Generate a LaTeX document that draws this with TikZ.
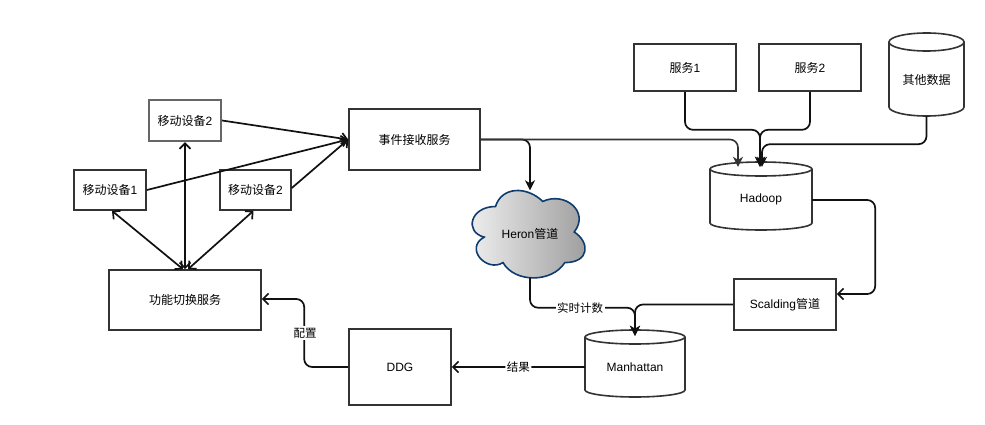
\documentclass[tikz,border=0pt]{standalone}
\usepackage{fontspec}
\setmainfont{Liberation Sans}
\newfontfamily\cjk{Noto Sans CJK SC}
\usetikzlibrary{arrows.meta}
\definecolor{ln}{HTML}{333333}
\definecolor{edgec}{HTML}{111111}
\definecolor{cloudb}{HTML}{0E3C6E}
\definecolor{cloudl}{HTML}{F2F2F2}
\definecolor{cloudr}{HTML}{9C9C9C}
\definecolor{grayb}{HTML}{666666}
\newcommand\zh[1]{{\cjk #1}}
\newcommand\cylshape[5]{%
  \pgfmathsetmacro\cyx{(#1+#3)/2}\pgfmathsetmacro\cyr{(#3-#1)/2}%
  \fill[white] (#1,#2+#5) -- (#1,#4-#5) -- (#3,#4-#5) -- (#3,#2+#5) -- cycle;
  \draw[boxline,fill=white] (#1,#2+#5) -- (#1,#4-#5) .. controls (#1,#4-0.448*#5) and (\cyx-0.552*\cyr,#4) .. (\cyx,#4) .. controls (\cyx+0.552*\cyr,#4) and (#3,#4-0.448*#5) .. (#3,#4-#5) -- (#3,#2+#5);
  \draw[boxline,fill=white] (\cyx,#2+#5) ellipse [x radius=\cyr, y radius=#5];
}
\begin{document}
\begin{tikzpicture}[x=1pt,y=-1pt,
  font=\fontsize{12}{14}\selectfont,
  boxline/.style={draw=ln,line width=1.6pt},
  box/.style={boxline,fill=white,inner sep=0pt},
  anch/.style={inner sep=0pt},
  edge/.style={draw=edgec,line width=1.7pt,rounded corners=8pt},
  openarr/.style={-{Straight Barb[length=5.5pt,width=11pt]}},
  bothopen/.style={{Straight Barb[length=5.5pt,width=11pt]}-{Straight Barb[length=5.5pt,width=11pt]}},
  classic/.style={-{Stealth[length=10pt,width=10pt,inset=3pt]}},
  elabel/.style={fill=white,inner sep=1.5pt,font=\fontsize{11.5}{13}\selectfont}]
\useasboundingbox (0,0) rectangle (985,425);

% boxes
\node[box,draw=grayb,line width=2.2pt,minimum width=72,minimum height=41] (devA) at (185,120.5) {\zh{移动设备}2};
\node[box,minimum width=72,minimum height=40] (dev1) at (110,190) {\zh{移动设备}1};
\node[box,minimum width=71,minimum height=40] (devB) at (255.5,190) {\zh{移动设备}2};
\node[box,minimum width=152,minimum height=60] (func) at (185,300) {\zh{功能切换服务}};
\node[box,minimum width=131,minimum height=61] (event) at (414.5,139.5) {\zh{事件接收服务}};
\node[box,minimum width=102,minimum height=47] (s1) at (685,67.5) {\zh{服务}1};
\node[box,minimum width=102,minimum height=47] (s2) at (810,67.5) {\zh{服务}2};
\node[box,minimum width=102,minimum height=51] (scald) at (785,304.5) {Scalding\zh{管道}};
\node[box,minimum width=102,minimum height=76] (ddg) at (400,367) {DDG};

% cylinders
\cylshape{889}{33}{964}{116}{9}
\node[anch,minimum width=75,minimum height=83] (other) at (926.5,74.5) {};
\node at (926.5,80) {\zh{其他数据}};
\cylshape{710}{162}{812}{230}{7}
\node[anch,minimum width=102,minimum height=68] (hadoop) at (761,196) {};
\node at (761,199.5) {Hadoop};
\cylshape{585}{330}{685}{397}{7}
\node[anch,minimum width=100,minimum height=67] (manh) at (635,363.5) {};
\node at (635,367.5) {Manhattan};

% cloud
\begin{scope}[shift={(464,181)},x=126pt,y=-102pt]
\draw[draw=cloudb,line width=1.6pt,left color=cloudl,right color=cloudr]
  (0.25,0.25) .. controls (0.05,0.25) and (0,0.5) .. (0.16,0.55)
  .. controls (0,0.66) and (0.18,0.9) .. (0.31,0.8)
  .. controls (0.4,1) and (0.7,1) .. (0.8,0.8)
  .. controls (1,0.8) and (1,0.6) .. (0.875,0.5)
  .. controls (1,0.3) and (0.8,0.1) .. (0.625,0.2)
  .. controls (0.5,0.05) and (0.3,0.05) .. (0.25,0.25) -- cycle;
\end{scope}
\node[anch,minimum width=113,minimum height=87] (heron) at (530,234) {Heron\zh{管道}};

% device edges
\draw[edge,openarr] (devA.east) -- (event.west);
\draw[edge,openarr] (dev1.east) -- (event.west);
\draw[edge,openarr] ([yshift=2pt]devB.east) -- (event.west);
\draw[edge,bothopen] (devA.south) -- (func.north);
\draw[edge,bothopen] ([xshift=2pt]dev1.south) -- ([xshift=-2pt]func.north);
\draw[edge,bothopen] ([xshift=-2pt]devB.south) -- ([xshift=3pt]func.north);

% event service
\draw[edge,classic] (event.east) -| (heron.north);
\draw[edge,classic,line width=1.6pt,draw=ln] (event.east) -| ([xshift=-23pt,yshift=-5pt]hadoop.north);

% into hadoop
\draw[edge,classic] (s1.south) -- ([yshift=-38pt]s1.south) -| ([xshift=-1pt,yshift=-5pt]hadoop.north);
\draw[edge,classic] (s2.south) -- ([yshift=-38pt]s2.south) -| ([xshift=-1pt,yshift=-5pt]hadoop.north);
\draw[edge,classic] (other.south) -- ([yshift=-28pt]other.south) -| ([xshift=1pt,yshift=-5pt]hadoop.north);

% hadoop to scalding
\draw[edge,openarr] ([yshift=-4pt]hadoop.east) -- ++(63,0) |- ([yshift=10.5pt]scald.east);

% to manhattan
\draw[edge,classic] (heron.south) |- ([yshift=-30pt]heron.south -| manh.north) -- ([yshift=-6pt]manh.north);
\node[elabel] (lblrt) at (580,308) {\zh{实时计数}};
\draw[edge,classic] (scald.west) -| ([yshift=-6pt]manh.north);

% manhattan to ddg
\draw[edge,openarr] (manh.west |- ddg.east) -- node[elabel] {\zh{结果}} (ddg.east);

% ddg to func
\draw[edge,openarr] (ddg.west) -- ++(-44,0) |- ([yshift=1pt]func.east);
\node[elabel] (lblpz) at (305,333) {\zh{配置}};
\end{tikzpicture}
\end{document}
